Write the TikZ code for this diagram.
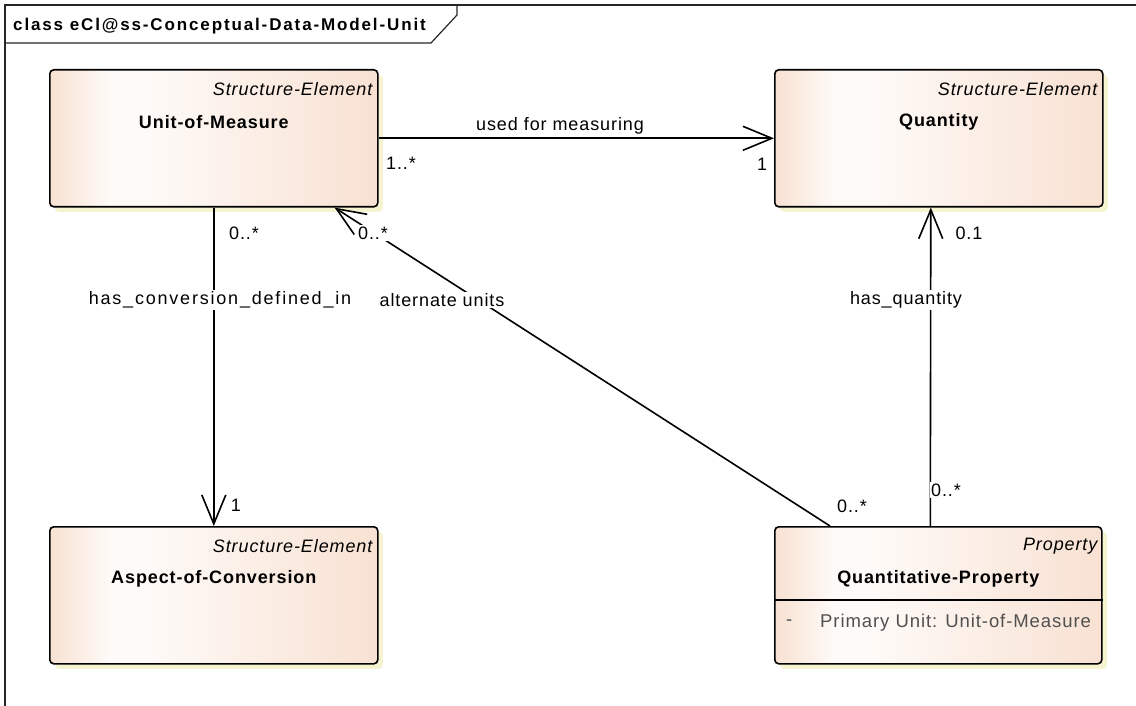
\documentclass[tikz,border=0pt]{standalone}
\usepackage{fontspec}
\setmainfont{Liberation Sans}[LetterSpace=5]
\newfontfamily\titlefont{Liberation Sans}[LetterSpace=11]
\usetikzlibrary{arrows.meta,shadows,calc}

\definecolor{boxpeach}{RGB}{248,225,210}
\definecolor{boxlight}{RGB}{254,250,247}
\definecolor{shadowc}{RGB}{246,243,208}
\definecolor{attrgray}{RGB}{80,80,80}

% the path's bounding box is mapped onto 25bp..75bp of the shading
\pgfdeclarehorizontalshading{classfill}{100bp}{%
  color(0bp)=(boxpeach); color(25bp)=(boxpeach); color(34bp)=(boxlight);
  color(40bp)=(boxlight); color(75bp)=(boxpeach); color(100bp)=(boxpeach)}

\tikzset{
  classbox/.style={rectangle, rounded corners=4pt, draw=black, line width=1.6pt,
    minimum width=328pt, minimum height=137pt, inner sep=0pt, anchor=north west,
    shade, shading=classfill,
    drop shadow={shadow xshift=5pt, shadow yshift=-5pt, fill=shadowc, opacity=1}},
  stereo/.style={anchor=east, inner sep=0pt, font=\fontsize{18}{21}\selectfont\itshape},
  cname/.style={inner sep=0pt, font=\fontsize{18}{21}\selectfont\bfseries},
  attr/.style={anchor=west, inner sep=0pt, text=attrgray, font=\fontsize{18.5}{21}\selectfont},
  lbl/.style={inner sep=1.5pt, fill=white, font=\fontsize{18}{21}\selectfont},
  assoc/.style={line width=1.6pt, -{Straight Barb[length=29pt, width=24pt, line width=1.6pt]}},
  frameline/.style={line width=1.2pt, draw=black!85}
}

\begin{document}
\begin{tikzpicture}[x=1pt, y=-1pt]
\useasboundingbox (0,0) rectangle (1136,706);

% diagram frame and name tab
\draw[frameline] (5,706) -- (5,5) -- (1136,5);
\draw[frameline] (5,43) -- (431,43) -- (457,15) -- (457,5);
\node[anchor=west, inner sep=0pt, font=\fontsize{17}{20}\selectfont\bfseries\titlefont] (title) at (13,26)
  {class eCl@ss-Conceptual-Data-Model-Unit};

% classes
\node[classbox] (u) at (49,69) {};
\node[classbox] (q) at (774,69) {};
\node[classbox] (a) at (49,526) {};
\node[classbox, minimum width=327pt] (p) at (774,526) {};

\node[stereo] (us) at ($(u.north east)+(-6,20)$) {Structure-Element};
\node[cname] (un) at ($(u.north)+(0,53)$) {Unit-of-Measure};

\node[stereo] (qs) at ($(q.north east)+(-6,20)$) {Structure-Element};
\node[cname] (qn) at ($(q.north)+(0,53)$) {Quantity};

\node[stereo] (as) at ($(a.north east)+(-6,20)$) {Structure-Element};
\node[cname] (an) at ($(a.north)+(0,53)$) {Aspect-of-Conversion};

\node[stereo] (ps) at ($(p.north east)+(-5,20)$) {Property};
\node[cname] (pn) at ($(p.north)+(0,53)$) {Quantitative-Property};
\draw[line width=1.6pt] ($(p.north west)+(0,74)$) -- ($(p.north east)+(0,74)$);
\node[attr] (pd) at ($(p.north west)+(12,97)$) {-};
\node[attr] (pa) at ($(p.north west)+(46,97)$) {Primary Unit: Unit-of-Measure};

% associations
\draw[assoc] (u.east) -- (q.west);
\draw[assoc] (u.south) -- (a.north);
\draw[assoc] ([xshift=-8pt]p.north) -- ([xshift=-8pt]q.south);
\draw[assoc] ([xshift=56pt]p.north west) -- ([xshift=-44pt]u.south east);

% association names and multiplicities
\node[lbl] (l1) at (560,126) {used\hspace{6pt}for measuring};
\node[lbl] (m1) at (401,163) {1..*};
\node[lbl] (m2) at (762,164) {1};
\node[lbl] (m3) at (244,233) {0..*};
\node[lbl] (m4) at (373,233) {0..*};
\node[lbl] (m5) at (969,233) {0.1};
\node[lbl] (l2) at (220,300) {\addfontfeature{LetterSpace=10}has\_conversion\_defined\_in};
\node[lbl] (l3) at (442,300) {alternate units};
\node[lbl] (l4) at (906,300) {has\_quantity};
\node[lbl] (m6) at (236,505) {1};
\node[lbl] (m7) at (852,506) {0..*};
\node[lbl] (m8) at (946,490) {0..*};
\end{tikzpicture}
\end{document}
